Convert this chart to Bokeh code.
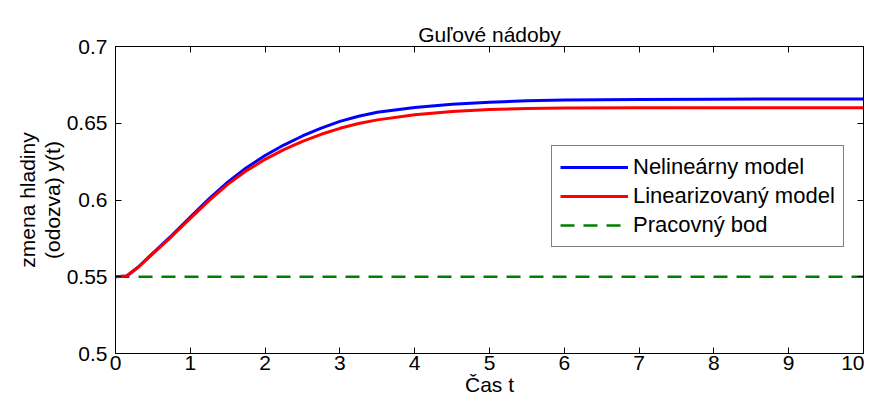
from bokeh.plotting import figure
from bokeh.models import Title, LinearAxis, FixedTicker, Legend, LegendItem, Range1d
from bokeh.embed import file_html
from bokeh.resources import INLINE

# ---- data ----
t = [0, 0.15, 0.3, 0.5, 0.75, 1.0, 1.25, 1.5, 1.75, 2.0, 2.25, 2.5, 2.75, 3.0,
     3.25, 3.5, 4.0, 4.5, 5.0, 5.5, 6.0, 7.0, 8.0, 9.0, 10.0]
nonlinear = [0.5500, 0.5505, 0.5562, 0.5654, 0.5768, 0.5889, 0.6007, 0.6116,
             0.6210, 0.6290, 0.6358, 0.6417, 0.6468, 0.6512, 0.6546, 0.6572, 0.6603,
             0.6624, 0.6637, 0.6646, 0.6651, 0.6655, 0.6657, 0.6658, 0.6658]
linearized = [0.5500, 0.5505, 0.5560, 0.5650, 0.5762, 0.5880, 0.5996, 0.6102,
              0.6190, 0.6265, 0.6328, 0.6382, 0.6428, 0.6467, 0.6498, 0.6522, 0.6556,
              0.6576, 0.6589, 0.6596, 0.6599, 0.6601, 0.6601, 0.6601, 0.6601]
op_t = [0, 10]
op_y = [0.55, 0.55]
x_ticks = [0, 1, 2, 3, 4, 5, 6, 7, 8, 9, 10]
y_ticks = [0.5, 0.55, 0.6, 0.65, 0.7]
y_tick_labels = ["0.5", "0.55", "0.6", "0.65", "0.7"]
series_names = ["Nelineárny model", "Linearizovaný model", "Pracovný bod"]
title_text = "Guľové nádoby"
xlabel = "Čas t"
ylabel_lines = ["zmena hladiny", "(odozva) y(t)"]

FONT = "Liberation Sans"
FS = "21px"

p = figure(width=864, height=398, x_range=Range1d(0, 10), y_range=Range1d(0.5, 0.7),
           output_backend="svg", toolbar_location=None,
           min_border_left=115, min_border_right=1, min_border_top=46, min_border_bottom=44,
           x_axis_location=None, y_axis_location=None)
p.grid.visible = False
p.outline_line_color = "black"
p.outline_line_width = 1
p.background_fill_color = "white"
p.border_fill_color = "white"

p.title.text = title_text
p.title.align = "center"
p.title.text_font = FONT
p.title.text_font_size = FS
p.title.text_font_style = "normal"
p.title.text_color = "black"
p.title.standoff = 2


def style_axis(ax, labels=True):
    ax.axis_line_color = "black"
    ax.major_tick_line_color = "black"
    ax.major_tick_in = 6
    ax.major_tick_out = 0
    ax.minor_tick_line_color = None
    ax.major_label_text_font = FONT
    ax.axis_label_text_font = FONT
    ax.axis_label_text_font_size = FS
    ax.axis_label_text_font_style = "normal"
    ax.axis_label_text_color = "black"
    if labels:
        ax.major_label_text_font_size = FS
        ax.major_label_text_color = "black"
    else:
        ax.major_label_text_font_size = "1px"
        ax.major_label_text_color = None
        ax.major_label_standoff = 0


xb = LinearAxis(ticker=FixedTicker(ticks=x_ticks), axis_label=xlabel)
style_axis(xb)
xb.major_label_standoff = 2
xb.axis_label_standoff = 0
p.add_layout(xb, "below")

yl = LinearAxis(ticker=FixedTicker(ticks=y_ticks))
yl.major_label_overrides = {v: s for v, s in zip(y_ticks, y_tick_labels)}
style_axis(yl)
yl.major_label_standoff = 8
p.add_layout(yl, "left")

xt = LinearAxis(ticker=FixedTicker(ticks=x_ticks))
style_axis(xt, labels=False)
p.add_layout(xt, "above")
yr = LinearAxis(ticker=FixedTicker(ticks=y_ticks))
style_axis(yr, labels=False)
p.add_layout(yr, "right")

for line in reversed(ylabel_lines):
    tt = Title(text=line, align="center", text_font=FONT, text_font_size=FS,
               text_font_style="normal", text_color="black", standoff=0)
    p.add_layout(tt, "left")

r_op = p.line(op_t, op_y, line_color="#008000", line_width=2.5, line_dash="14 9")
r_nl = p.line(t, nonlinear, line_color="#0000ff", line_width=3)
r_li = p.line(t, linearized, line_color="#ff0000", line_width=3)

legend = Legend(items=[LegendItem(label=series_names[0], renderers=[r_nl]),
                       LegendItem(label=series_names[1], renderers=[r_li]),
                       LegendItem(label=series_names[2], renderers=[r_op])],
                location=(436, 106), orientation="vertical",
                glyph_width=68, glyph_height=20, label_height=20, label_standoff=5,
                spacing=3, padding=8, margin=0,
                label_text_font=FONT, label_text_font_size="22px", label_text_color="black",
                border_line_color="black", border_line_width=1,
                background_fill_color="white", background_fill_alpha=1.0)
p.add_layout(legend)

open("out.html", "w").write(file_html(p, INLINE))
